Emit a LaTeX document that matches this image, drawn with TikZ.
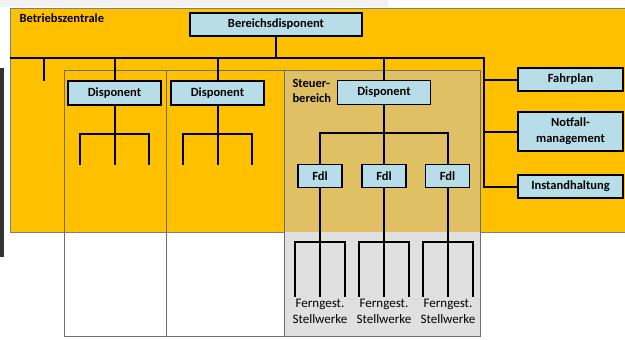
\documentclass[tikz,border=0pt]{standalone}
\usepackage{fontspec}
\setmainfont{Carlito}
\begin{document}
\begin{tikzpicture}[x=1pt,y=-1pt,
  every node/.style={font=\fontsize{12.5}{14}\selectfont\bfseries},
  unitbox/.style={draw=black, fill=boxblue, line width=1.5pt, inner sep=0pt, align=center},
  link/.style={line width=2pt, line cap=rect},
  panel/.style={draw=panelgray, line width=0.9pt},
  plain/.style={font=\fontsize{13}{16}\selectfont, align=center, inner sep=0pt}]
\definecolor{zoneorange}{HTML}{FFC000}
\definecolor{boxblue}{HTML}{B7DEE8}
\definecolor{sectortan}{HTML}{DFC064}
\definecolor{fieldgray}{HTML}{E0E0E0}
\definecolor{panelgray}{HTML}{6E6E6E}
\definecolor{framegray}{HTML}{7F7F7F}

\useasboundingbox (0,0) rectangle (625,340);
\fill[white] (0,0) rectangle (625,340);
\fill[black!5] (0,0) rectangle (388,7);
\fill[black!80] (0,68) rectangle (4,257);

% control centre and the regions inside it
\filldraw[fill=zoneorange, draw=framegray, line width=1pt] (10,8) rectangle (626,232);
\fill[sectortan] (284,70) rectangle (480,232);
\fill[fieldgray] (284,232) rectangle (480,336);
\draw[panel] (64,70) rectangle (166,336);
\draw[panel] (166,70) rectangle (284,336);
\draw[panel] (284,70) rectangle (480,336);

\node[anchor=base west] (bz) at (16,23) {Betriebszentrale};
\node[anchor=base west, align=left, font=\fontsize{12.5}{15}\selectfont\bfseries] (sb) at (289,102) {Steuer-\\bereich};

% units
\node[unitbox, minimum width=172pt, minimum height=23pt] (bd) at (276,24.5) {Bereichsdisponent};
\node[unitbox, minimum width=93pt, minimum height=24pt] (d1) at (114.5,93) {Disponent};
\node[unitbox, minimum width=93pt, minimum height=24pt] (d2) at (217.5,93) {Disponent};
\node[unitbox, minimum width=93pt, minimum height=24pt] (d3) at (384,92.5) {Disponent};
\node[unitbox, minimum width=44pt, minimum height=23pt] (f1) at (320,176) {Fdl};
\node[unitbox, minimum width=44pt, minimum height=23pt] (f2) at (384,176) {Fdl};
\node[unitbox, minimum width=44pt, minimum height=23pt] (f3) at (447.5,176) {Fdl};
\node[unitbox, minimum width=105pt, minimum height=23pt] (fp) at (570.5,79.5) {Fahrplan};
\node[unitbox, minimum width=105pt, minimum height=39pt, font=\fontsize{12.5}{16}\selectfont\bfseries] (nf) at (570.5,131.5) {Notfall-\\management};
\node[unitbox, minimum width=105pt, minimum height=23pt] (ih) at (570.5,186.5) {Instandhaltung};

% remote interlockings
\node[plain] (s1) at (320,311) {Ferngest.\\Stellwerke};
\node[plain] (s2) at (384,311) {Ferngest.\\Stellwerke};
\node[plain] (s3) at (448,311) {Ferngest.\\Stellwerke};

% main bus
\coordinate (busL) at (10,58);
\coordinate (busR) at (484,58);
\coordinate (stub) at (44,80);
\draw[link] (bd.south) -- (bd.south |- busL);
\draw[link, line cap=butt] (busL) -- (busR) -- (busR |- ih.west);
\draw[link] (stub |- busL) -- (stub);
\draw[link] (d1.north |- busL) -- (d1.north);
\draw[link] (d2.north |- busL) -- (d2.north);
\draw[link] (d3.north |- busL) -- (d3.north);
\draw[link] (busR |- fp.west) -- (fp.west);
\draw[link] (busR |- nf.west) -- (nf.west);
\draw[link] (busR |- ih.west) -- (ih.west);

% empty trees under the two dispatchers
\foreach \d in {d1,d2}{
  \draw[link] (\d.south) -- ++(0,28) coordinate (\d-fork);
  \draw[link] ([xshift=-34.5pt]\d-fork) -- ([xshift=34.5pt]\d-fork);
  \foreach \dx in {-34.5,0,34.5}
    \draw[link] ([xshift=\dx pt]\d-fork) -- ++(0,30);
}

% control sector tree
\draw[link] (d3.south) -- ++(0,28) coordinate (sfork);
\draw[link] (f1.north |- sfork) -- (f3.north |- sfork);
\foreach \f in {f1,f2,f3}
  \draw[link] (\f.north |- sfork) -- (\f.north);

\foreach \f/\s in {f1/s1,f2/s2,f3/s3}{
  \draw[link] (\f.south) -- ++(0,54) coordinate (\f-fork);
  \draw[link] ([xshift=-25pt]\f-fork) -- ([xshift=25pt]\f-fork);
  \foreach \dx in {-25,0,25}
    \draw[link] ([xshift=\dx pt]\f-fork) -- ++(0,54);
}
\end{tikzpicture}
\end{document}
